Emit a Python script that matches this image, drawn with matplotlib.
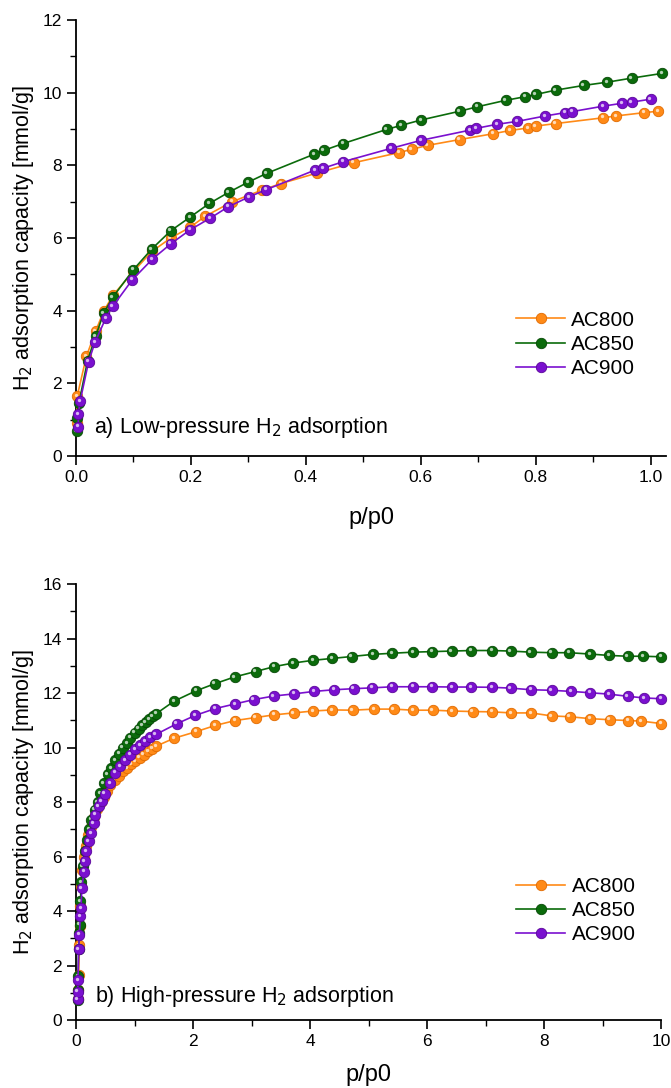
import matplotlib
matplotlib.use("Agg")
import matplotlib.pyplot as plt
from matplotlib.ticker import MultipleLocator, FormatStrFormatter
from matplotlib import transforms

plt.rcParams['font.family'] = ['Liberation Sans', 'DejaVu Sans']

labels = ["AC800", "AC850", "AC900"]
colors = ["#FF8A17", "#0B6B0B", "#7A10CF"]
edges = ["#E06A00", "#064806", "#5A0699"]

# ---- Low-pressure data ----
lp_x_800 = [0.001, 0.002, 0.018, 0.034, 0.048, 0.064, 0.100, 0.132, 0.165, 0.199, 0.225, 0.272, 0.324, 0.357,
            0.420, 0.483, 0.562, 0.584, 0.612, 0.668, 0.726, 0.756, 0.787, 0.800, 0.835, 0.918, 0.940, 0.989, 1.013]
lp_y_800 = [0.90, 1.64, 2.74, 3.43, 3.98, 4.42, 5.08, 5.63, 6.00, 6.30, 6.60, 7.00, 7.32, 7.50,
            7.79, 8.07, 8.35, 8.44, 8.55, 8.71, 8.87, 8.96, 9.03, 9.08, 9.15, 9.31, 9.36, 9.45, 9.49]
lp_x_850 = [0.001, 0.002, 0.005, 0.020, 0.034, 0.048, 0.064, 0.100, 0.132, 0.165, 0.199, 0.232, 0.266, 0.300,
            0.332, 0.415, 0.431, 0.465, 0.541, 0.566, 0.601, 0.668, 0.698, 0.748, 0.782, 0.800, 0.835, 0.884,
            0.925, 0.967, 1.020]
lp_y_850 = [0.68, 1.05, 1.45, 2.62, 3.29, 3.93, 4.37, 5.13, 5.70, 6.20, 6.58, 6.95, 7.26, 7.54,
            7.78, 8.31, 8.41, 8.60, 8.99, 9.10, 9.25, 9.49, 9.61, 9.79, 9.89, 9.95, 10.07, 10.20,
            10.29, 10.40, 10.53]
lp_x_900 = [0.004, 0.004, 0.007, 0.022, 0.033, 0.052, 0.064, 0.098, 0.133, 0.165, 0.199, 0.234, 0.265, 0.301,
            0.331, 0.416, 0.430, 0.465, 0.549, 0.601, 0.686, 0.697, 0.733, 0.768, 0.817, 0.851, 0.864, 0.918,
            0.951, 0.967, 1.000]
lp_y_900 = [0.81, 1.15, 1.50, 2.60, 3.13, 3.80, 4.12, 4.85, 5.42, 5.84, 6.23, 6.55, 6.86, 7.13,
            7.33, 7.87, 7.92, 8.10, 8.47, 8.69, 8.97, 9.02, 9.13, 9.21, 9.36, 9.45, 9.48, 9.63,
            9.71, 9.74, 9.82]

# ---- High-pressure data ----
hp_x_800 = [0.03, 0.035, 0.045, 0.057, 0.063, 0.075, 0.09, 0.11, 0.14, 0.17, 0.21, 0.25, 0.30, 0.36, 0.42,
            0.48, 0.53, 0.585, 0.66, 0.73, 0.80, 0.87, 0.945, 1.01, 1.087, 1.155, 1.23, 1.30, 1.37, 1.675,
            2.05, 2.38, 2.72, 3.07, 3.39, 3.72, 4.05, 4.38, 4.73, 5.10, 5.43, 5.76, 6.10, 6.43, 6.78, 7.11,
            7.44, 7.78, 8.13, 8.44, 8.79, 9.12, 9.44, 9.66, 10.0]
hp_y_800 = [0.78, 1.1, 1.65, 2.75, 3.45, 4.2, 4.9, 5.5, 6.0, 6.4, 6.8, 7.1, 7.45, 7.75, 8.0,
            8.2, 8.39, 8.64, 8.82, 8.97, 9.13, 9.25, 9.38, 9.50, 9.62, 9.74, 9.87, 9.96, 10.05, 10.34,
            10.58, 10.81, 10.99, 11.10, 11.20, 11.27, 11.34, 11.38, 11.37, 11.41, 11.41, 11.37, 11.37, 11.34,
            11.32, 11.31, 11.27, 11.27, 11.16, 11.13, 11.06, 11.02, 10.99, 10.97, 10.88]
hp_x_850 = [0.03, 0.032, 0.035, 0.045, 0.055, 0.06, 0.075, 0.09, 0.115, 0.15, 0.19, 0.22, 0.26, 0.32, 0.37,
            0.415, 0.472, 0.54, 0.60, 0.67, 0.74, 0.80, 0.87, 0.93, 1.0, 1.07, 1.13, 1.19, 1.25, 1.31, 1.37,
            1.675, 2.05, 2.37, 2.71, 3.07, 3.39, 3.71, 4.05, 4.38, 4.71, 5.08, 5.41, 5.76, 6.09, 6.42, 6.76,
            7.11, 7.43, 7.77, 8.13, 8.43, 8.79, 9.11, 9.43, 9.70, 10.0]
hp_y_850 = [0.72, 1.1, 1.6, 2.6, 3.2, 3.5, 4.35, 5.05, 5.65, 6.2, 6.6, 7.0, 7.35, 7.72, 8.0,
            8.33, 8.68, 9.01, 9.25, 9.53, 9.78, 9.99, 10.17, 10.36, 10.54, 10.69, 10.81, 10.93, 11.05, 11.15,
            11.24, 11.70, 12.08, 12.34, 12.59, 12.79, 12.97, 13.10, 13.20, 13.27, 13.34, 13.42, 13.46, 13.50,
            13.52, 13.54, 13.56, 13.56, 13.54, 13.50, 13.48, 13.48, 13.43, 13.38, 13.35, 13.35, 13.33]
hp_x_900 = [0.03, 0.03, 0.034, 0.045, 0.057, 0.074, 0.085, 0.10, 0.136, 0.148, 0.17, 0.216, 0.256, 0.30,
            0.33, 0.39, 0.44, 0.49, 0.585, 0.67, 0.756, 0.84, 0.927, 1.01, 1.10, 1.18, 1.27, 1.365, 1.72,
            2.04, 2.38, 2.72, 3.04, 3.38, 3.73, 4.07, 4.41, 4.75, 5.06, 5.41, 5.76, 6.09, 6.43, 6.76, 7.11,
            7.43, 7.78, 8.13, 8.46, 8.79, 9.11, 9.43, 9.71, 10.0]
hp_y_900 = [0.76, 1.04, 1.47, 2.6, 3.13, 3.80, 4.1, 4.84, 5.45, 5.82, 6.19, 6.56, 6.86, 7.23,
            7.54, 7.84, 8.03, 8.30, 8.70, 9.07, 9.31, 9.53, 9.74, 9.93, 10.09, 10.23, 10.38, 10.48, 10.87,
            11.18, 11.43, 11.60, 11.76, 11.89, 11.97, 12.06, 12.12, 12.16, 12.19, 12.23, 12.23, 12.23, 12.22,
            12.22, 12.21, 12.18, 12.12, 12.10, 12.06, 12.01, 11.96, 11.88, 11.82, 11.79]

fig = plt.figure(figsize=(6.71, 10.88), dpi=100)
ax1 = fig.add_axes([0.1133, 0.5809, 0.8793, 0.4007])
ax2 = fig.add_axes([0.1133, 0.0625, 0.8718, 0.4007])

MS = 7.5


def draw(ax, xs, ys):
    handles = []
    hl = transforms.offset_copy(ax.transData, fig=fig, x=-1.0, y=1.0, units='points')
    for x, y, c, e, lab in zip(xs, ys, colors, edges, labels):
        h, = ax.plot(x, y, '-', color=c, lw=1.2, marker='o', ms=MS, mfc=c, mec=e, mew=0.6,
                     label=lab, clip_on=False, zorder=3)
        ax.plot(x, y, linestyle='none', marker='o', ms=2.4, mfc='white', mec='none', alpha=0.7,
                transform=hl, clip_on=False, zorder=3)
        handles.append(h)
    return handles


h1 = draw(ax1, [lp_x_800, lp_x_850, lp_x_900], [lp_y_800, lp_y_850, lp_y_900])
h2 = draw(ax2, [hp_x_800, hp_x_850, hp_x_900], [hp_y_800, hp_y_850, hp_y_900])

ax1.set_xlim(0, 1.027)
ax1.set_ylim(0, 12)
ax1.xaxis.set_major_locator(MultipleLocator(0.2))
ax1.xaxis.set_minor_locator(MultipleLocator(0.1))
ax1.yaxis.set_major_locator(MultipleLocator(2))
ax1.yaxis.set_minor_locator(MultipleLocator(1))
ax1.xaxis.set_major_formatter(FormatStrFormatter('%.1f'))

ax2.set_xlim(0, 10.0)
ax2.set_ylim(0, 16)
ax2.xaxis.set_major_locator(MultipleLocator(2))
ax2.xaxis.set_minor_locator(MultipleLocator(1))
ax2.yaxis.set_major_locator(MultipleLocator(2))
ax2.yaxis.set_minor_locator(MultipleLocator(1))

for ax, lp in ((ax1, 16), (ax2, 11)):
    for s in ('top', 'right'):
        ax.spines[s].set_visible(False)
    for s in ('left', 'bottom'):
        ax.spines[s].set_linewidth(1.3)
    ax.tick_params(which='major', direction='out', length=6.5, width=1.2, labelsize=12.5, pad=3.5)
    ax.tick_params(which='minor', direction='out', length=4, width=1.0)
    ax.set_xlabel("p/p0", fontsize=17, labelpad=lp)
    ax.set_ylabel("H$_2$ adsorption capacity [mmol/g]", fontsize=15.5, labelpad=5)

leg_kw = dict(frameon=False, fontsize=15, handlelength=2.35, handletextpad=0.3, labelspacing=0.25,
              borderpad=0, borderaxespad=0, loc='center left')
ax1.legend(handles=h1, bbox_to_anchor=(0.746, 0.256), **leg_kw)
ax2.legend(handles=h2, bbox_to_anchor=(0.7526, 0.251), **leg_kw)

ax1.text(0.030, 0.065, "a) Low-pressure H$_2$ adsorption", transform=ax1.transAxes, fontsize=15.5,
         va='center', ha='left')
ax2.text(0.033, 0.055, "b) High-pressure H$_2$ adsorption", transform=ax2.transAxes, fontsize=15.5,
         va='center', ha='left')

fig.savefig("out.png", dpi=100)
